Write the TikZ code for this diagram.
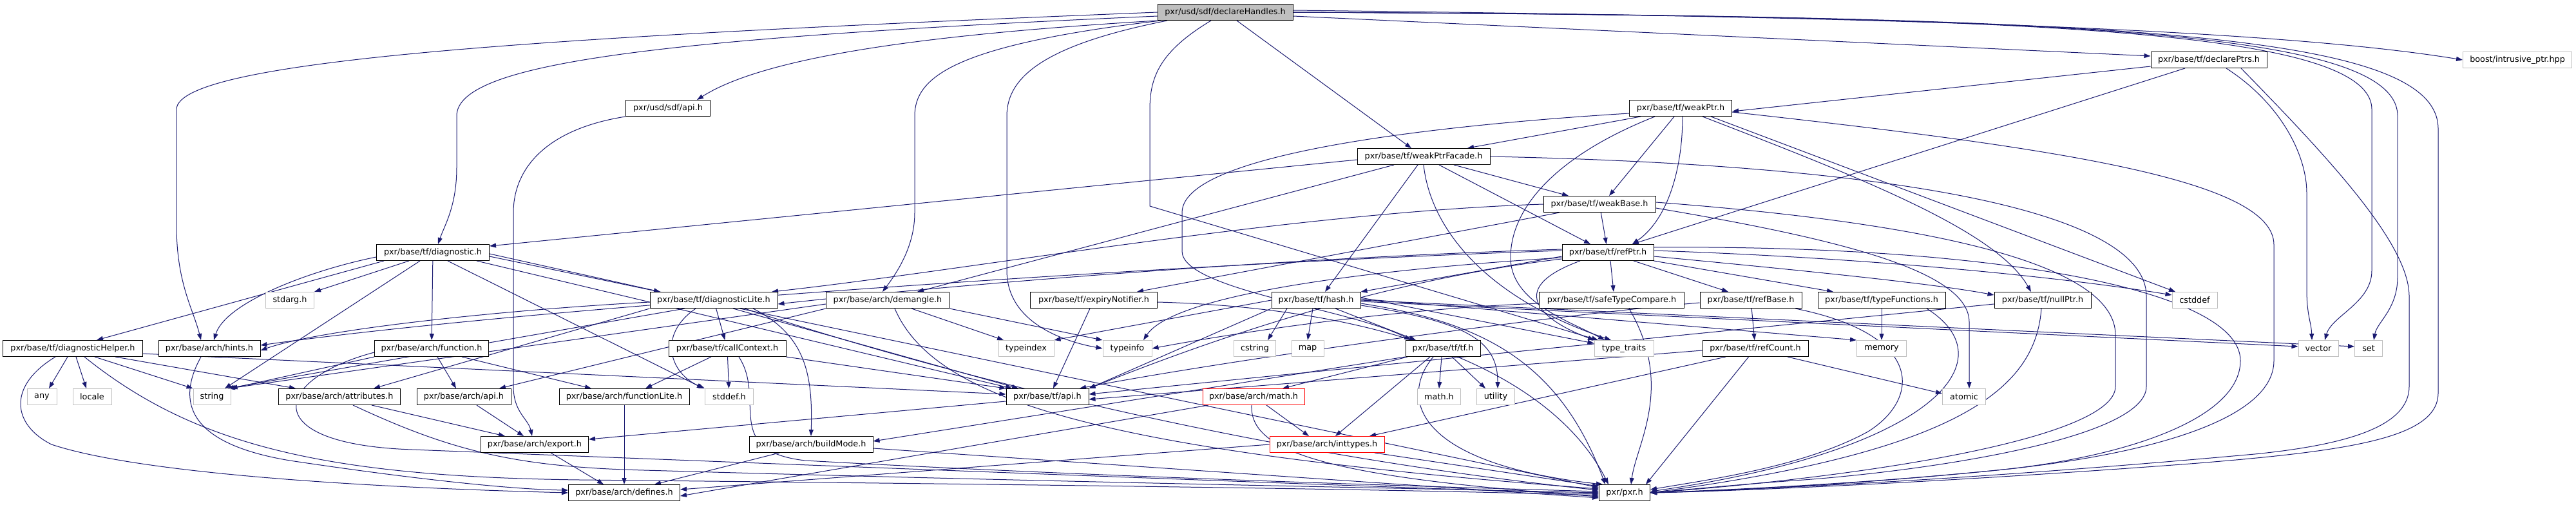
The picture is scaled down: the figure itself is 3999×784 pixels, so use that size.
\documentclass[tikz,border=0pt]{standalone}
\usepackage{fontspec}
\setmainfont{DejaVu Sans}
\usetikzlibrary{arrows.meta}
\definecolor{edgec}{HTML}{191970}
\definecolor{sysgray}{HTML}{BFBFBF}
\pgfdeclarelayer{bg}
\pgfsetlayers{bg,main}
\tikzset{
  nb/.style={draw=black, fill=white, line width=1pt, minimum height=25pt, inner sep=0pt, minimum width=#1, font=\fontsize{12.8pt}{14pt}\selectfont},
  ns/.style={nb=#1, draw=sysgray},
  nr/.style={nb=#1, draw=red},
  nroot/.style={nb=#1, fill=sysgray},
  e/.style={draw=edgec, line width=1pt, -{Triangle[length=10pt,width=7pt]}},
}
\begin{document}
\begin{tikzpicture}[x=1pt,y=-1pt]
\useasboundingbox (0,0) rectangle (3999,784);
% row 0
\node[nroot=210] (dh) at (1902,19) {pxr/usd/sdf/declareHandles.h};
\node[nb=180] (dp) at (3429,93) {pxr/base/tf/declarePtrs.h};
\node[ns=169] (boost) at (3908,93) {boost/intrusive\_ptr.hpp};
\node[nb=131] (sapi) at (1037,168) {pxr/usd/sdf/api.h};
\node[nb=159] (wp) at (2609,168) {pxr/base/tf/weakPtr.h};
\node[nb=206] (wpf) at (2210,243) {pxr/base/tf/weakPtrFacade.h};
\node[nb=174] (wb) at (2483,317) {pxr/base/tf/weakBase.h};
\node[nb=175] (diag) at (672,392) {pxr/base/tf/diagnostic.h};
\node[nb=142] (rp) at (2496,392) {pxr/base/tf/refPtr.h};
% row 466
\node[ns=75] (stdarg) at (450,466) {stdarg.h};
\node[nb=198] (dl) at (1108,466) {pxr/base/tf/diagnosticLite.h};
\node[nb=191] (dm) at (1378,466) {pxr/base/arch/demangle.h};
\node[nb=197] (en) at (1698,466) {pxr/base/tf/expiryNotifier.h};
\node[nb=138] (hash) at (2043,466) {pxr/base/tf/hash.h};
\node[nb=225] (stc) at (2502,466) {pxr/base/tf/safeTypeCompare.h};
\node[nb=158] (rb) at (2718,466) {pxr/base/tf/refBase.h};
\node[nb=198] (tfn) at (2921,466) {pxr/base/tf/typeFunctions.h};
\node[nb=150] (np) at (3171,466) {pxr/base/tf/nullPtr.h};
\node[ns=70] (cstddef) at (3407,466) {cstddef};
% row 541
\node[nb=217] (dhl) at (113,541) {pxr/base/tf/diagnosticHelper.h};
\node[nb=158] (hints) at (325,541) {pxr/base/arch/hints.h};
\node[nb=177] (fn) at (670,541) {pxr/base/arch/function.h};
\node[nb=182] (cc) at (1129,541) {pxr/base/tf/callContext.h};
\node[ns=86] (typeindex) at (1593,541) {typeindex};
\node[ns=76] (typeinfo) at (1750,541) {typeinfo};
\node[ns=65] (cstring) at (1948,541) {cstring};
\node[ns=50] (map) at (2030,541) {map};
\node[nb=116] (tfh) at (2240,541) {pxr/base/tf/tf.h};
\node[ns=92] (tt) at (2521,541) {type\_traits};
\node[nb=164] (rc) at (2725,541) {pxr/base/tf/refCount.h};
\node[ns=77] (memory) at (2921,541) {memory};
\node[ns=62] (vector) at (3599,541) {vector};
\node[ns=43] (set) at (3677,541) {set};
% row 616
\node[ns=46] (any) at (65,616) {any};
\node[ns=60] (locale) at (143,616) {locale};
\node[ns=58] (string) at (329,616) {string};
\node[nb=189] (attr) at (527,616) {pxr/base/arch/attributes.h};
\node[nb=146] (aapi) at (720,616) {pxr/base/arch/api.h};
\node[nb=202] (fl) at (969,616) {pxr/base/arch/functionLite.h};
\node[ns=75] (stddef) at (1132,616) {stddef.h};
\node[nb=128] (tapi) at (1626,616) {pxr/base/tf/api.h};
\node[nr=158] (amath) at (1946,616) {pxr/base/arch/math.h};
\node[ns=67] (mathh) at (2234,616) {math.h};
\node[ns=59] (utility) at (2322,616) {utility};
\node[ns=67] (atomic) at (3049,616) {atomic};
% row 690
\node[nb=167] (export) at (830,690) {pxr/base/arch/export.h};
\node[nb=192] (bm) at (1259,690) {pxr/base/arch/buildMode.h};
\node[nr=178] (it) at (2060,690) {pxr/base/arch/inttypes.h};
% row 765
\node[nb=173] (defines) at (969,765) {pxr/base/arch/defines.h};
\node[nb=79] (pxr) at (2522,765) {pxr/pxr.h};

\begin{pgfonlayer}{bg}
% declareHandles
\draw[e] (dh.west) .. controls (900,55) and (274,90) .. (274,170) -- (274,350) .. controls (274,440) and (300,480) .. ([xshift=-13]hints.north);
\draw[e] ([yshift=-6]dh.west) .. controls (1000,60) and (709,100) .. (709,180) -- (709,260) .. controls (709,320) and (690,350) .. ([xshift=8]diag.north);
\draw[e] (dh.south west) .. controls (1500,50) and (1200,80) .. ([xshift=45]sapi.north);
\draw[e] ([xshift=-100]dh.south) .. controls (1480,70) and (1420,120) .. (1420,180) -- (1420,330) .. controls (1420,380) and (1395,420) .. ([xshift=-8]dm.north);
\draw[e] ([xshift=-90]dh.south) .. controls (1620,70) and (1563,120) .. (1563,180) -- (1563,420) .. controls (1563,500) and (1650,530) .. (typeinfo.west);
\draw[e] ([xshift=-22]dh.south) .. controls (1800,80) and (1785,120) .. (1785,170) -- (1785,320) -- ([xshift=-40]tt.north);
\draw[e] ([xshift=18]dh.south) -- ([xshift=-19]wpf.north);
\draw[e] ([yshift=-6]dh.east) -- ([yshift=6]dp.west);
\draw[e] ([yshift=3]dh.east) .. controls (2800,25) and (3500,40) .. (boost.west);
\draw[e] (dh.east) .. controls (3100,25) and (3682,40) .. (3682,170) -- (3682,420) .. controls (3682,470) and (3620,490) .. ([xshift=10]vector.north);
\draw[e] (dh.east) .. controls (3200,25) and (3722,45) .. (3722,180) -- (3722,430) .. controls (3722,480) and (3690,500) .. ([xshift=8]set.north);
\draw[e] (dh.east) .. controls (3300,25) and (3785,50) .. (3785,200) -- (3785,610) .. controls (3785,680) and (3650,700) .. (3400,720) .. controls (3000,750) and (2700,762) .. (pxr.east);
% sdf api
\draw[e] (sapi.south west) .. controls (850,200) and (797,260) .. (797,330) -- (797,600) .. controls (797,640) and (820,650) .. ([xshift=-4]export.north);
% declarePtrs
\draw[e] ([yshift=-10]dp.west) -- ([yshift=-5]wp.east);
\draw[e] ([xshift=-37]dp.south) -- ([xshift=38]rp.north);
\draw[e] ([xshift=27]dp.south) .. controls (3540,160) and (3581,240) .. (3581,300) -- (3581,450) .. controls (3581,490) and (3588,500) .. ([xshift=-10]vector.north);
\draw[e] ([xshift=50]dp.south) .. controls (3620,250) and (3740,380) .. (3740,460) -- (3740,600) .. controls (3740,660) and (3650,690) .. (3500,705) .. controls (3000,750) and (2700,760) .. (pxr.east);
% weakPtr
\draw[e] ([xshift=-62]wp.south) -- ([xshift=68]wpf.north);
\draw[e] ([xshift=-10]wp.south) -- ([xshift=15]wb.north);
\draw[e] ([xshift=3]wp.south) .. controls (2612,260) and (2590,340) .. ([xshift=38]rp.north);
\draw[e] ([yshift=-8]wp.west) .. controls (2300,190) and (1835,230) .. (1835,330) -- (1835,390) .. controls (1835,450) and (2100,480) .. ([xshift=-50]tfh.north);
\draw[e] ([xshift=-40]wp.south) .. controls (2420,240) and (2345,320) .. (2345,400) .. controls (2345,470) and (2440,500) .. ([xshift=-30]tt.north);
\draw[e] ([xshift=34]wp.south) .. controls (2900,280) and (3100,360) .. ([xshift=-18]np.north);
\draw[e] ([xshift=47]wp.south) -- ([xshift=-30]cstddef.north);
\draw[e] ([yshift=-6]wp.east) .. controls (3200,230) and (3530,280) .. (3530,380) -- (3530,560) .. controls (3530,660) and (3300,710) .. (3100,730) .. controls (2900,750) and (2700,760) .. (pxr.east);
% weakPtrFacade
\draw[e] ([yshift=-5]wpf.west) -- ([yshift=10]diag.east);
\draw[e] ([xshift=-46]wpf.south) -- ([xshift=46]dm.north);
\draw[e] ([xshift=-9]wpf.south) -- ([xshift=14]hash.north);
\draw[e] (wpf.south) .. controls (2220,350) and (2300,460) .. ([xshift=-20]tt.north);
\draw[e] ([xshift=24]wpf.south) -- ([xshift=-27]rp.north);
\draw[e] ([xshift=47]wpf.south) -- ([xshift=-48]wb.north);
\draw[e] (wpf.east) .. controls (2900,255) and (3332,320) .. (3332,460) -- (3332,600) .. controls (3332,680) and (3000,730) .. (2800,745) .. controls (2700,752) and (2620,760) .. (pxr.east);
% weakBase
\draw[e] (wb) -- (rp);
\draw[e] ([xshift=-62]wb.south) -- ([xshift=67]en.north);
\draw[e] (wb.west) .. controls (2000,330) and (1500,420) .. ([xshift=90]dl.north);
\draw[e] ([yshift=-6]wb.east) .. controls (2850,370) and (3057,420) .. (3057,500) -- ([xshift=8]atomic.north);
\draw[e] ([yshift=3]wb.east) .. controls (3050,350) and (3284,420) .. (3284,520) -- (3284,600) .. controls (3284,680) and (2900,740) .. (pxr.east);
% refPtr
\draw[e] ([yshift=5]rp.west) .. controls (2000,400) and (1500,440) .. ([yshift=-6]dl.east);
\draw[e] ([yshift=3]rp.west) .. controls (1800,410) and (800,480) .. ([yshift=5]hints.east);
\draw[e] ([yshift=-6]rp.west) -- (hash.north east);
\draw[e] ([yshift=-8]rp.west) .. controls (2100,420) and (1820,460) .. ([xshift=25]typeinfo.north);
\draw[e] ([xshift=-43]rp.south) .. controls (2330,450) and (2400,500) .. ([xshift=-46]tt.north);
\draw[e] ([xshift=4]rp.south) -- ([xshift=3]stc.north);
\draw[e] ([xshift=40]rp.south) -- ([xshift=-35]rb.north);
\draw[e] (rp.south east) -- ([xshift=-75]tfn.north);
\draw[e] ([yshift=-6]rp.east) .. controls (2800,420) and (3000,440) .. ([yshift=8]np.west);
\draw[e] ([yshift=3]rp.east) .. controls (2900,400) and (3200,430) .. ([yshift=8]cstddef.west);
\draw[e] ([yshift=-10]rp.west) .. controls (2100,440) and (1800,560) .. (tapi.north east);
\draw[e] ([yshift=8]rp.east) .. controls (3100,380) and (3478,450) .. (3478,560) .. controls (3478,650) and (3300,710) .. (3100,730) .. controls (2900,750) and (2700,762) .. (pxr.east);
% diagnostic
\draw[e] ([xshift=-76]diag.south) -- ([xshift=37]dhl.north);
\draw[e] ([yshift=-7]diag.west) .. controls (480,420) and (350,470) .. ([xshift=7]hints.north);
\draw[e] ([xshift=-37]diag.south) -- (stdarg.north east);
\draw[e] ([xshift=-20]diag.south) -- ([xshift=20]string.north);
\draw[e] (diag) -- (fn);
\draw[e] ([xshift=23]diag.south) -- ([xshift=-40]stddef.north);
\draw[e] ([yshift=-2]diag.east) -- ([xshift=-83]dl.north);
\draw[e] ([xshift=68]diag.south) -- ([xshift=-55]tapi.north);
\draw[e] ([yshift=-6]diag.east) -- ([yshift=8]pxr.west);
% diagnosticHelper
\draw[e] ([xshift=-8]dhl.south) -- ([xshift=11]any.north);
\draw[e] ([xshift=5]dhl.south) -- ([xshift=-9]locale.north);
\draw[e] ([xshift=34]dhl.south) -- (string.north west);
\draw[e] ([xshift=66]dhl.south) -- ([xshift=-68]attr.north);
\draw[e] ([yshift=-8]dhl.east) -- ([yshift=4]tapi.west);
\draw[e] ([xshift=-27]dhl.south) .. controls (10,600) and (20,660) .. (80,690) .. controls (200,730) and (500,755) .. (defines.west);
\draw[e] ([xshift=18]dhl.south) .. controls (300,690) and (500,740) .. (900,745) .. controls (1600,752) and (2200,760) .. ([yshift=-4]pxr.west);
% hints
\draw[e] ([xshift=-13]hints.south) .. controls (270,630) and (300,690) .. (450,715) .. controls (650,745) and (800,760) .. ([yshift=4]defines.west);
% function
\draw[e] (fn.south west) -- (string.north east);
\draw[e] ([xshift=9]fn.south) -- ([xshift=-12]aapi.north);
\draw[e] ([xshift=47]fn.south) -- ([xshift=-51]fl.north);
\draw[e] ([yshift=-6]fn.west) .. controls (420,590) and (400,690) .. (640,698) .. controls (1200,720) and (2100,755) .. ([yshift=-2]pxr.west);
% attributes, api, functionLite, export
\draw[e] ([xshift=50]attr.south) -- ([xshift=-46]export.north);
\draw[e] ([xshift=21]attr.south) .. controls (700,700) and (800,725) .. (1000,730) .. controls (1700,750) and (2200,758) .. (pxr.west);
\draw[e] ([xshift=20]aapi.south) -- ([xshift=-17]export.north);
\draw[e] (fl) -- (defines);
\draw[e] ([xshift=25]export.south) -- ([xshift=-32]defines.north);
\draw[e] ([yshift=-7]tapi.west) -- ([yshift=8]export.east);
% diagnosticLite
\draw[e] ([xshift=-45]dl.south) -- ([xshift=24]string.north);
\draw[e] (dl.south west) -- ([xshift=53]attr.north);
\draw[e] ([xshift=-28]dl.south) .. controls (1020,520) and (1040,580) .. (stddef.north west);
\draw[e] (dl) -- (cc);
\draw[e] ([xshift=30]dl.south) -- ([xshift=-45]tapi.north);
\draw[e] ([xshift=61]dl.south) .. controls (1250,520) and (1262,580) .. (bm.north);
\draw[e] ([xshift=48]dl.south) .. controls (1400,560) and (1900,700) .. ([yshift=4]pxr.west);
\draw[e] ([yshift=-3]dl.west) .. controls (800,480) and (500,510) .. ([yshift=-3]hints.east);
% callContext
\draw[e] ([xshift=-25]cc.south) -- ([xshift=33]fl.north);
\draw[e] (cc) -- (stddef);
\draw[e] (cc.south east) -- (tapi.north west);
\draw[e] ([xshift=18]cc.south) .. controls (1190,620) and (1120,700) .. (1250,715) .. controls (1700,740) and (2200,755) .. ([yshift=2]pxr.west);
% demangle
\draw[e] ([xshift=37]dm.south) -- ([xshift=-35]typeindex.north);
\draw[e] (dm.south east) -- (typeinfo.north west);
\draw[e] ([xshift=11]dm.south) .. controls (1450,620) and (1700,700) .. ([yshift=6]pxr.west);
\draw[e] ([yshift=-6]dm.west) -- ([xshift=26]string.north);
\draw[e] (dm.south west) -- ([xshift=55]aapi.north);
% expiryNotifier
\draw[e] ([xshift=-6]en.south) -- ([xshift=9]tapi.north);
\draw[e] ([yshift=-3]en.east) .. controls (2200,480) and (2420,600) .. ([xshift=-25]pxr.north);
% hash
\draw[e] ([xshift=-5]hash.south) -- (map.north);
\draw[e] ([xshift=30]hash.south) -- ([xshift=-42]tfh.north);
\draw[e] ([xshift=-45]hash.south) -- ([xshift=20]cstring.north);
\draw[e] (hash.west) -- (typeindex.north east);
\draw[e] ([yshift=4]hash.east) -- ([yshift=8]tt.west);
\draw[e] ([yshift=2]hash.east) -- (memory.north west);
\draw[e] (hash.east) -- ([yshift=3]set.west);
\draw[e] ([yshift=-2]hash.east) -- ([yshift=3]vector.west);
\draw[e] ([yshift=-8]hash.east) .. controls (2280,500) and (2325,530) .. ([xshift=3]utility.north);
\draw[e] ([yshift=-5]hash.east) .. controls (2300,500) and (2420,560) .. ([xshift=-30]pxr.north);
\draw[e] (hash.south west) -- (tapi.north east);
% safeTypeCompare
\draw[e] ([yshift=-5]stc.west) .. controls (2150,480) and (1900,520) .. (typeinfo.east);
\draw[e] ([xshift=27]stc.south) .. controls (2600,600) and (2540,690) .. ([xshift=10]pxr.north);
% refBase
\draw[e] (rb) -- (rc);
\draw[e] ([yshift=-4]rb.west) .. controls (2400,490) and (1900,560) .. ([xshift=50]tapi.north);
\draw[e] ([xshift=69]rb.south) .. controls (2990,520) and (2980,620) .. (2900,670) .. controls (2800,725) and (2650,745) .. ([yshift=5]pxr.east);
% typeFunctions
\draw[e] (tfn) -- (memory);
\draw[e] ([xshift=70]tfn.south) .. controls (3120,560) and (3000,700) .. ([yshift=2]pxr.east);
% nullPtr
\draw[e] ([yshift=-6]np.west) -- ([yshift=4]tapi.east);
\draw[e] ([xshift=-2]np.south) .. controls (3160,600) and (3050,700) .. (pxr.east);
% refCount
\draw[e] ([xshift=-46]rc.south) -- ([xshift=66]it.north);
\draw[e] ([xshift=50]rc.south) -- ([yshift=5]atomic.west);
\draw[e] (rc) -- ([xshift=33]pxr.north);
\draw[e] ([yshift=-3]rc.west) -- ([yshift=-4]tapi.east);
% tf.h
\draw[e] ([xshift=-55]tfh.south) -- ([xshift=45]amath.north);
\draw[e] (tfh.south west) -- ([yshift=5]bm.east);
\draw[e] ([xshift=-20]tfh.south) -- ([xshift=13]it.north);
\draw[e] ([xshift=-15]tfh.south) .. controls (2170,620) and (2200,720) .. ([xshift=-34]pxr.north);
\draw[e] ([xshift=-2]tfh.south) -- (mathh.north);
\draw[e] ([xshift=14]tfh.south) -- ([xshift=-16]utility.north);
% arch math
\draw[e] ([xshift=-70]amath.south) -- ([yshift=-5]defines.east);
\draw[e] ([xshift=-3]amath.south) .. controls (1940,700) and (2050,740) .. ([yshift=-6]pxr.west);
\draw[e] ([xshift=20]amath.south) -- ([xshift=-28]it.north);
% inttypes
\draw[e] (it.west) -- ([yshift=5]defines.east);
\draw[e] ([xshift=74]it.south) -- ([yshift=10]pxr.west);
% buildMode
\draw[e] ([xshift=-49]bm.south) -- ([xshift=47]defines.north);
\draw[e] ([yshift=-6]bm.east) -- ([yshift=-8]pxr.west);
\end{pgfonlayer}
\end{tikzpicture}
\end{document}
